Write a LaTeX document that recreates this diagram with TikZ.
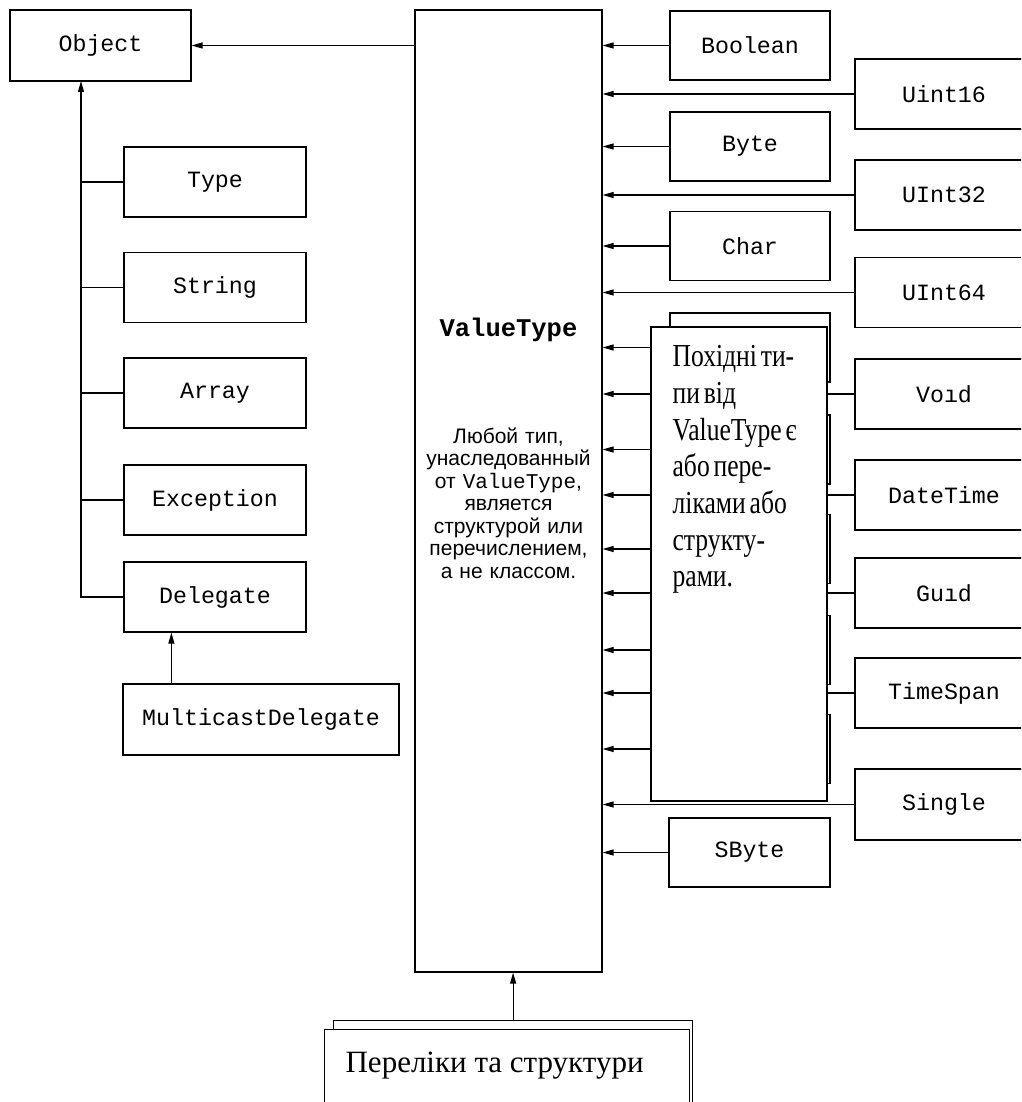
\documentclass[tikz,border=0pt]{standalone}
\usepackage{fontspec}
\setmainfont{Liberation Serif}
\setsansfont{Liberation Sans}
\setmonofont{Liberation Mono}
\newfontfamily\narrowserif[FakeStretch=0.8]{Liberation Serif}
\usetikzlibrary{arrows.meta}

\begin{document}
\begin{tikzpicture}[x=1pt,y=-1pt,line width=1.2pt]
	\path[use as bounding box] (0,0) rectangle (1021,1102);
	\clip (0,0) rectangle (1021,1102);
	\begin{scope}[every node/.style={rectangle,draw,fill=white,inner sep=0pt,minimum height=70pt,
			font=\ttfamily\fontsize{23.3}{27}\selectfont}]
		% left tree
		\node[minimum width=181pt,minimum height=71pt] (Object) at (100.5,45.5) {Object};
		\node[minimum width=182pt] (Type) at (215,182) {Type};
		\node[minimum width=182pt] (String) at (215,287.5) {String};
		\node[minimum width=182pt] (Array) at (215,393) {Array};
		\node[minimum width=182pt] (Exception) at (215,500) {Exception};
		\node[minimum width=182pt] (Delegate) at (215,597) {Delegate};
		\node[minimum width=276pt,minimum height=71pt] (Multicast) at (261,719.5) {MulticastDelegate};
		\node[minimum width=187pt,minimum height=962pt] (ValueType) at (508.5,491) {};
		% inner column
		\node[minimum width=160pt,minimum height=69pt] (Boolean) at (750,45.5) {Boolean};
		\node[minimum width=160pt,minimum height=69pt] (Byte) at (750,146.5) {Byte};
		\node[minimum width=160pt,minimum height=69pt] (Char) at (750,246) {Char};
		\foreach \y [count=\i] in {347.5,449.5,549,650,749}
			\node[minimum width=160pt,minimum height=69pt] (hidden\i) at (750,\y) {};
		\node[minimum width=161pt,minimum height=69pt] (SByte) at (749.5,852.5) {SByte};
		% outer column
		\node[minimum width=178pt] (Uint16) at (944,94) {Uint16};
		\node[minimum width=178pt] (UInt32) at (944,195) {UInt32};
		\node[minimum width=178pt] (UInt64) at (944,292.5) {UInt64};
		\node[minimum width=178pt] (Void) at (944,394) {Voıd};
		\node[minimum width=178pt] (DateTime) at (944,495) {DateTime};
		\node[minimum width=178pt] (Guid) at (944,593) {Guıd};
		\node[minimum width=178pt] (TimeSpan) at (944,693) {TimeSpan};
		\node[minimum width=178pt,minimum height=71pt] (Single) at (944,804.5) {Single};
		% enums
		\node[minimum width=359pt,minimum height=100pt,anchor=north west] (enumsBack) at (333,1020) {};
	\end{scope}

	\node[anchor=base,inner sep=0pt,font=\ttfamily\bfseries\fontsize{25.5}{29}\selectfont] (vtTitle) at (508.5,336) {ValueType};
	\node[anchor=north,inner sep=0pt,text width=185pt,align=center,
		font=\sffamily\fontsize{21}{22.5}\selectfont] (vtNote) at (508.5,427)
		{Любой тип,\\ унаследованный\\ от {\ttfamily ValueType},\\ является\\ структурой или\\ перечислением,\\ а не классом.};

	\begin{scope}[>={Triangle[length=11pt,width=6pt]}]
		\coordinate (trunk) at (81,81);
		\draw[->] (ValueType.west |- Object.east) -- (Object.east);
		\draw[->] (Delegate.west) -| (trunk);
		\foreach \n in {Type,String,Array,Exception}
			\draw (\n.west) -- (\n.west -| trunk);
		\draw[->] ([xshift=49pt]Multicast.north west) -- ([xshift=49pt]Multicast.north west |- Delegate.south);
		\foreach \n in {Boolean,Uint16,Byte,UInt32,Char,UInt64,hidden1,Void,hidden2,DateTime,hidden3,Guid,hidden4,TimeSpan,hidden5,Single,SByte}
			\draw[->] (\n.west) -- (\n.west -| ValueType.east);
		\draw[->] (enumsBack.north) -- (enumsBack.north |- ValueType.south);
	\end{scope}

	% overlay note
	\node[draw,fill=white,inner sep=0pt,minimum width=176pt,minimum height=474pt] (derived) at (739,564) {};
	\node[anchor=north west,inner sep=0pt,text width=150pt,align=left,
		font=\narrowserif\fontsize{32}{36.7}\selectfont] (derivedText) at (672,345)
		{\spaceskip=0.12em\relax Похідні ти-\\ пи від\\ ValueType є\\ або пере-\\ ліками або\\ структу-\\ рами.};

	\node[draw,fill=white,inner sep=0pt,minimum width=365pt,minimum height=100pt,anchor=north west] (enumsFront) at (324,1029) {};
	\node[anchor=base west,inner sep=0pt,font=\fontsize{31}{36}\selectfont] (enumsText) at (345,1072) {Переліки та структури};
\end{tikzpicture}
\end{document}
